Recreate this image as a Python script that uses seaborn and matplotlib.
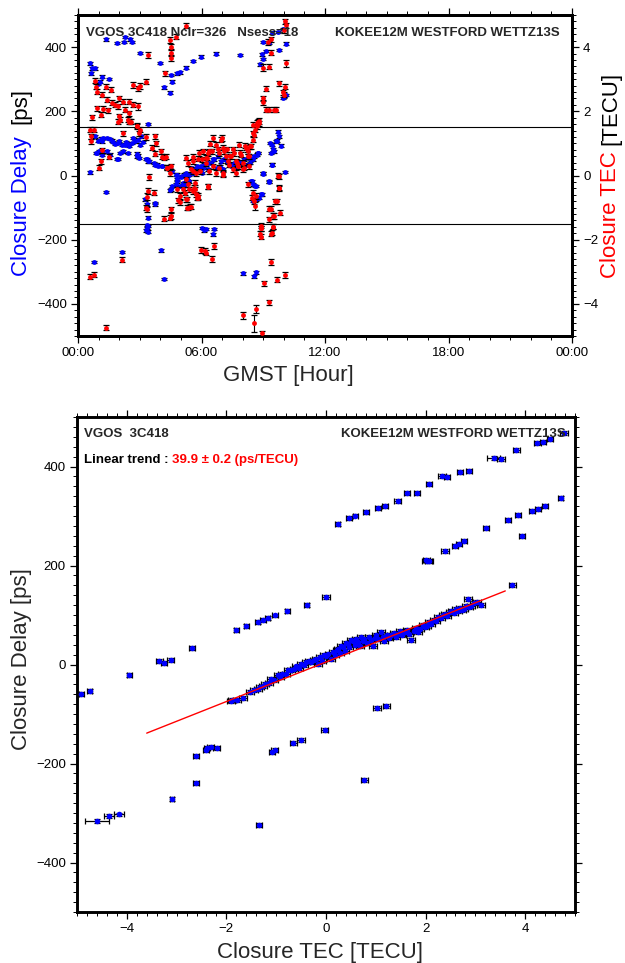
import numpy as np
import pandas as pd
import matplotlib
matplotlib.use("Agg")
import matplotlib.pyplot as plt
import seaborn as sns
from matplotlib.ticker import MultipleLocator, FixedLocator

# ---------------- data ----------------
# top panel: closure delay (ps) vs GMST (hours)
blue_points = [
    (0.58, 349), (0.67, 334), (0.62, 318), (0.83, 334), (1.15, 308), (1.07, 292), (0.99, 285), (1.52, 301),
    (1.36, 424), (1.91, 413), (2.25, 416), (2.28, 432), (2.53, 424), (2.61, 416), (3.01, 382), (3.98, 351),
    (4.20, 275), (4.47, 258), (4.50, 313), (4.55, 292), (4.83, 318), (4.96, 321), (5.25, 336), (5.60, 357),
    (5.98, 370), (6.71, 380), (7.89, 375), (8.84, 346), (8.94, 377), (9.00, 363), (9.00, 416), (9.13, 388),
    (9.26, 414), (9.43, 445), (9.70, 447), (9.75, 391), (9.98, 456), (10.10, 411), (9.95, 241), (10.02, 246),
    (10.10, 251), (3.42, 160),
    (0.83, 122), (0.99, 109), (1.10, 115), (1.15, 106), (1.23, 117), (1.39, 117), (1.55, 114), (1.64, 109),
    (1.70, 104), (1.80, 99), (1.96, 101), (2.00, 108), (2.12, 96), (2.28, 96), (2.35, 104), (2.44, 99),
    (2.50, 92), (2.60, 101), (2.67, 117), (2.75, 106), (2.92, 112), (3.00, 96), (3.08, 122), (3.15, 105),
    (0.58, 10), (0.86, 70), (0.91, 70), (1.02, 75), (1.15, 72), (1.18, 65), (1.39, 75), (1.55, 65),
    (1.91, 52), (1.96, 52), (2.04, 70), (2.20, 75), (2.44, 70), (2.85, 68), (2.88, 60), (2.93, 62),
    (2.96, 55), (3.30, 52), (3.37, 52), (3.42, 44), (3.45, 44), (1.35, -52),
    (3.69, 39), (3.74, 34), (3.85, 34), (3.90, 29), (4.07, 29), (4.10, 29), (4.31, 24), (4.34, 24),
    (4.47, 19), (4.58, 13), (4.75, 3), (4.80, 3), (4.99, -4), (5.04, -2), (5.15, 3), (5.20, 3),
    (5.23, -12), (5.31, -7), (4.50, -43), (4.47, -46), (4.56, -33), (4.75, -28), (4.82, -18), (4.80, -12),
    (4.96, -33), (5.12, -23), (5.15, -33), (5.23, -23), (5.28, -18), (5.39, -18), (3.72, -85), (3.74, -90),
    (3.26, -74), (3.34, -90), (3.42, -131), (3.37, -155), (3.37, -162), (3.40, -157), (3.29, -171), (3.40, -175),
    (5.25, 8), (5.41, 3), (5.52, 24), (5.57, 8), (5.60, 8), (5.65, 19), (5.77, 29), (5.82, 24),
    (5.93, 19), (5.98, 29), (6.01, 8), (6.09, 24), (6.14, 34), (6.30, 19), (6.33, 39), (6.46, 39),
    (6.57, 50), (6.62, 50), (6.74, 24), (6.79, 60), (6.90, 29), (6.95, 44), (7.06, 19), (7.11, 50),
    (7.22, 44), (7.27, 39), (7.39, 34), (7.43, 29), (7.55, 29), (7.59, 39), (7.71, 24), (7.75, 44),
    (7.87, 39), (7.92, 34), (8.04, 29), (8.08, 50), (8.20, 34), (8.24, 55), (8.36, 39), (8.40, 50),
    (8.52, 50), (8.56, 60), (8.68, 65), (8.73, 70), (8.76, 70),
    (8.40, -18), (8.47, -18), (8.49, -28), (8.60, -33), (8.65, -33), (8.89, -59), (8.93, -59), (8.78, -69),
    (8.65, -74), (8.49, -80), (9.01, 8), (9.01, 6), (9.30, -18), (9.30, -20), (9.42, 34), (9.43, 34),
    (10.06, 11), (9.70, 137), (9.78, 122), (9.62, 106), (9.43, 96), (9.49, 81), (9.38, 70), (9.54, 75),
    (9.86, 93), (9.33, 101), (9.65, 109),
    (6.03, -164), (6.14, -171), (6.22, -167), (6.55, -183), (6.62, -167), (0.78, -269), (2.15, -238),
    (4.05, -233), (4.18, -322), (8.03, -305), (8.57, -314), (8.65, -302),
]
blue_delay_err = 4.0  # ps

# top panel: closure TEC (TECU) vs GMST (hours), with TEC error (TECU)
red_points = [
    (5.23, 4.66, .08), (4.47, 4.22, .08), (4.50, 4.01, .08), (4.53, 3.83, .08), (4.53, 3.65, .08),
    (4.76, 4.32, .08), (3.40, 3.75, .10), (4.21, 3.18, .08), (3.30, 2.92, .08), (3.01, 2.79, .08),
    (2.69, 2.82, .08), (2.93, 2.72, .08), (10.07, 4.80, .08), (10.10, 4.68, .08), (10.02, 4.53, .08),
    (9.38, 4.25, .08), (9.25, 4.16, .08), (9.38, 3.83, .08), (9.27, 3.39, .08), (9.00, 3.36, .12),
    (10.10, 3.49, .10), (9.13, 2.70, .08), (8.97, 2.41, .08), (9.00, 2.28, .08), (9.78, 2.87, .08),
    (10.07, 2.77, .08), (9.98, 2.59, .08), (10.02, 2.51, .08), (9.27, 2.05, .08), (9.54, 2.05, .08),
    (9.62, 2.05, .08), (9.13, 2.05, .08), (8.78, 1.70, .10), (8.49, 1.58, .08), (8.76, 1.68, .08),
    (0.83, 2.95, .08), (0.87, 2.77, .08), (0.91, 2.61, .08), (1.15, 2.51, .08), (1.36, 2.77, .08),
    (1.59, 2.67, .08), (1.39, 2.36, .08), (0.91, 2.10, .08), (0.67, 1.82, .08), (1.23, 2.07, .08),
    (1.10, 1.89, .08), (1.44, 2.03, .08), (1.64, 2.27, .08), (1.80, 2.20, .08), (2.01, 2.41, .08),
    (1.96, 2.15, .08), (2.20, 2.30, .08), (2.28, 2.05, .08), (2.49, 2.30, .08), (2.49, 1.94, .08),
    (2.69, 2.20, .08), (2.93, 2.15, .10), (2.44, 1.74, .08), (2.53, 1.68, .08), (1.98, 1.84, .08),
    (2.04, 1.74, .08), (2.85, 1.53, .08), (1.96, 1.68, .08), (2.48, 1.68, .08), (2.56, 1.68, .08),
    (2.85, 1.55, .08), (2.20, 1.32, .08), (3.01, 1.43, .08), (2.98, 1.32, .08), (0.58, 1.43, .08),
    (0.78, 1.43, .08), (0.65, 1.22, .08), (0.65, 1.06, .08), (1.18, 0.78, .08), (1.10, 0.44, .08),
    (1.02, 0.24, .08), (1.51, 0.58, .08),
    (3.30, 1.20, .08), (3.74, 1.22, .08), (3.79, 1.01, .08), (3.58, 0.86, .08), (3.73, 0.68, .08),
    (4.05, 0.75, .08), (4.29, 0.58, .08), (4.18, 0.55, .08), (4.10, 0.58, .08), (4.53, 0.29, .08),
    (4.34, 0.24, .08), (4.47, 0.08, .08), (4.31, 0.24, .08), (3.45, -0.04, .10), (3.42, -0.49, .10),
    (3.37, -0.66, .10), (3.29, -1.00, .08), (3.37, -1.05, .08), (3.69, -0.54, .08), (4.18, -1.34, .08),
    (4.50, -1.26, .08), (4.47, -1.31, .08), (4.53, -1.05, .08), (4.80, -0.43, .08), (4.96, -0.64, .08),
    (5.12, -0.43, .08), (5.20, -0.54, .08), (5.28, -0.74, .08), (5.28, -1.00, .08), (5.44, -0.97, .08),
    (4.96, -0.83, .08), (4.87, -0.77, .08), (5.68, -0.43, .08), (5.77, -0.69, .08), (5.85, -0.64, .08),
    (6.33, -0.33, .08), (5.68, -0.23, .08), (5.25, -0.12, .08), (5.33, -0.28, .08), (5.41, -0.43, .08),
    (5.57, -0.49, .08), (5.65, -0.38, .08), (5.73, -0.59, .08), (5.82, -0.69, .08), (5.25, -0.74, .08),
    (5.33, -1.00, .08), (5.49, -0.97, .08), (6.30, -0.35, .08),
    (5.25, 0.55, .08), (5.33, 0.39, .08), (5.49, 0.19, .08), (5.60, 0.44, .08), (5.82, 0.52, .08),
    (5.90, 0.70, .08), (6.06, 0.75, .08), (6.22, 0.55, .08), (6.38, 0.75, .08), (6.41, 0.99, .08),
    (6.54, 1.17, .08), (6.71, 0.96, .08), (6.79, 0.81, .08), (6.87, 0.70, .08), (6.95, 1.12, .08),
    (6.98, 1.17, .08), (7.03, 0.86, .08), (7.11, 0.75, .08), (7.19, 0.60, .08), (7.27, 0.44, .08),
    (7.35, 0.34, .08), (7.43, 0.60, .08), (7.52, 0.81, .08), (7.60, 0.70, .08), (7.68, 0.44, .08),
    (7.76, 0.29, .08), (7.84, 0.96, .08), (7.92, 0.65, .08), (8.00, 0.39, .08), (8.16, 0.86, .08),
    (8.25, 0.75, .08), (8.33, 0.60, .08), (8.41, 0.91, .08), (8.49, 1.12, .08), (8.52, 1.32, .08),
    (8.57, 1.27, .08), (8.62, 1.43, .08), (8.68, 1.53, .08), (8.71, 1.65, .08), (8.78, 1.63, .08),
    (8.33, 0.29, .08), (8.08, 0.24, .08), (7.68, 0.08, .08), (7.52, 0.19, .08), (7.03, 0.03, .08),
    (6.87, 0.24, .08), (6.71, 0.08, .08), (6.38, 0.13, .08), (6.22, 0.39, .08), (5.73, 0.08, .08),
    (5.57, 0.13, .08), (5.60, 0.58, .08), (6.01, 0.50, .08), (6.25, 0.55, .08), (6.33, 0.70, .08),
    (6.49, 0.75, .08), (7.22, 0.81, .08), (7.39, 0.60, .08), (7.71, 0.39, .08), (7.87, 0.70, .08),
    (8.11, 0.93, .08), (8.20, 0.81, .08), (8.36, 0.91, .08), (8.28, 0.60, .08), (8.03, 0.19, .08),
    (7.79, 0.29, .08), (7.06, 0.08, .08), (6.57, 0.29, .08), (5.93, 0.13, .08),
    (8.25, -0.28, .08), (8.49, -0.54, .08), (8.65, -0.64, .08), (8.57, -0.80, .10), (8.62, -0.95, .12),
    (8.44, -0.69, .08), (9.70, 0.00, .08), (9.78, -0.02, .08), (9.78, -0.38, .08), (9.78, -0.40, .08),
    (9.59, -0.80, .08), (9.65, -0.80, .08), (9.30, -1.03, .08), (9.38, -1.03, .08), (9.49, -1.26, .08),
    (9.52, -1.26, .08), (9.83, -1.16, .08), (9.30, -1.36, .08), (8.89, -1.57, .08), (9.49, -1.59, .08),
    (8.84, -1.81, .08), (8.88, -1.65, .08), (9.44, -1.78, .08),
    (5.98, -2.32, .08), (6.22, -2.40, .08), (6.19, -2.35, .08), (6.62, -2.19, .10), (6.51, -2.60, .08),
    (8.89, -1.64, .08), (8.89, -1.91, .08), (9.49, -1.60, .08), (9.38, -1.81, .08), (9.40, -2.69, .10),
    (9.02, -3.36, .08), (9.67, -3.25, .08), (10.06, -3.10, .08), (9.30, -3.95, .08), (8.03, -4.36, .10),
    (8.65, -4.15, .12), (8.57, -4.60, .26), (8.94, -4.91, .08), (2.15, -2.63, .08), (0.58, -3.15, .08),
    (0.78, -3.09, .08), (1.35, -4.74, .08),
]

# bottom panel: (closure TEC [TECU], closure delay [ps], TEC error [TECU])
branch_points = [
    (0.24, 284, .05), (0.46, 296, .06), (0.59, 301, .05), (0.80, 308, .06), (1.05, 316, .06),
    (1.19, 321, .06), (1.44, 331, .07), (1.62, 347, .06), (1.82, 347, .06), (2.06, 364, .06),
    (2.33, 381, .08), (2.43, 379, .06), (2.70, 388, .06), (2.87, 391, .06), (3.37, 418, .13),
    (3.51, 415, .08), (3.82, 434, .07), (4.24, 448, .07), (4.36, 450, .06), (4.49, 456, .06),
    (4.78, 468, .08),
    (-4.91, -59, .05), (-4.74, -53, .05), (-3.95, -21, .05), (-3.35, 7, .07), (-3.25, 3, .06),
    (-3.12, 9, .07), (-2.69, 33, .06), (-1.80, 69, .05), (-1.60, 77, .05), (-1.37, 86, .05),
    (-1.26, 89, .06), (-1.17, 93, .05), (-1.02, 99, .06), (-0.78, 108, .05), (-0.39, 121, .05),
    (0.00, 137, .08), (2.03, 209, .10), (2.01, 211, .07), (2.06, 210, .08), (2.39, 230, .08),
    (2.60, 240, .06), (2.68, 244, .06), (2.78, 249, .06), (3.21, 276, .06), (3.66, 291, .06),
    (3.86, 302, .06), (3.94, 259, .06), (4.14, 311, .06), (4.26, 314, .06), (4.39, 321, .06),
    (4.71, 337, .05), (3.74, 160, .07),
    (1.03, -87, .08), (1.21, -83, .07), (-0.03, -133, .08), (-0.50, -152, .08), (-0.66, -159, .07),
    (-1.03, -172, .07), (-1.08, -176, .06), (-2.19, -168, .07), (-2.31, -167, .07), (-2.39, -168, .06),
    (-2.41, -172, .06), (-2.62, -184, .06), (-2.62, -240, .06), (0.77, -234, .07), (-3.09, -271, .04),
    (-4.16, -303, .10), (-4.36, -307, .10), (-4.59, -317, .24), (-1.34, -325, .06),
]
cluster_points = [
    (-1.91, -73), (-1.88, -72), (-1.78, -71), (-1.66, -67), (-1.52, -56), (-1.45, -52), (-1.37, -49),
    (-1.33, -46), (-1.27, -44), (-1.22, -40), (-1.15, -38), (-1.10, -30), (-1.04, -32), (-0.97, -22),
    (-0.92, -26), (-0.88, -20), (-0.80, -19), (-0.76, -12), (-0.70, -11), (-0.64, -9), (-0.60, -4),
    (-0.55, -8), (-0.50, 1), (-0.45, -2), (-0.40, 5), (-0.35, 8), (-0.30, 6), (-0.25, 10), (-0.20, 12),
    (-0.17, 1), (-0.12, 16), (-0.08, 8), (-0.04, 20), (0.00, 18), (0.05, 22), (0.10, 12), (0.14, 26),
    (0.18, 20), (0.22, 30), (0.24, 32), (0.28, 24), (0.30, 38), (0.34, 35), (0.38, 28), (0.40, 44),
    (0.44, 42), (0.47, 36), (0.50, 50), (0.54, 48), (0.58, 40), (0.60, 52), (0.64, 45), (0.68, 38),
    (0.70, 55), (0.74, 48), (0.77, 52), (0.82, 44), (0.86, 56), (0.90, 50), (0.94, 38), (0.98, 54),
    (1.01, 59), (1.05, 52), (1.11, 65), (1.14, 56), (1.17, 48), (1.22, 60), (1.27, 54), (1.31, 59),
    (1.36, 64), (1.40, 56), (1.44, 62), (1.49, 68), (1.53, 60), (1.58, 65), (1.63, 70), (1.67, 62),
    (1.71, 50), (1.76, 68), (1.80, 74), (1.84, 65), (1.89, 72), (1.94, 80), (1.98, 75), (2.03, 78),
    (2.07, 86), (2.11, 82), (2.16, 90), (2.20, 88), (2.25, 96), (2.30, 94), (2.34, 100), (2.38, 102),
    (2.43, 98), (2.48, 106), (2.52, 109), (2.57, 104), (2.61, 112), (2.65, 109), (2.70, 114), (2.74, 110),
    (2.78, 112), (2.82, 118), (2.85, 133), (2.88, 116), (2.92, 119), (2.98, 124), (3.04, 126), (3.12, 121),
]
cluster_tec_err = 0.08
scatter_delay_err = 4.0

trend_slope = 39.9      # ps/TECU
trend_intercept = 5.0   # ps
trend_range = [-3.6, 3.6]

time_ticks = [0, 6, 12, 18, 24]
time_labels = ["00:00", "06:00", "12:00", "18:00", "00:00"]
delay_limits = 150

# ---------------- styling ----------------
sns.set_theme(style="white")
plt.rcParams["font.family"] = ["Liberation Sans", "DejaVu Sans"]
plt.rcParams["axes.unicode_minus"] = True

W, H = 625, 963
fig = plt.figure(figsize=(W / 100, H / 100), dpi=100)


def rect(l, t, r, b):
    return [l / W, 1 - b / H, (r - l) / W, (b - t) / H]


BLUE = "#0000ff"
RED = "#ff0000"
FRAME_LW = 2.1


def style_frame(ax):
    for s in ax.spines.values():
        s.set_linewidth(FRAME_LW)
        s.set_color("black")
        s.set_visible(True)
    ax.tick_params(which="major", direction="out", length=5, width=0.9, color="black",
                   labelsize=9.5, labelcolor="black", pad=3)
    ax.tick_params(which="minor", direction="out", length=2.6, width=0.7, color="black")
    ax.set_xlabel("")
    ax.set_ylabel("")
    ax.grid(False)


# ---------------- top panel ----------------
ax1 = fig.add_axes(rect(78, 15, 572, 336))
blue_df = pd.DataFrame(blue_points, columns=["gmst", "delay"])
ax1.errorbar(blue_df["gmst"], blue_df["delay"], yerr=blue_delay_err, fmt="none", ecolor="black",
             elinewidth=0.8, capsize=1.9, capthick=0.9, zorder=2)
sns.scatterplot(data=blue_df, x="gmst", y="delay", ax=ax1, color=BLUE, s=12, linewidth=0,
                zorder=3, legend=False)
ax1.axhline(delay_limits, color="black", lw=0.8, zorder=1)
ax1.axhline(-delay_limits, color="black", lw=0.8, zorder=1)
ax1.set_xlim(0, 24)
ax1.set_ylim(-500, 500)
ax1.xaxis.set_major_locator(FixedLocator(time_ticks))
ax1.set_xticklabels(time_labels)
ax1.xaxis.set_minor_locator(MultipleLocator(1))
ax1.yaxis.set_major_locator(MultipleLocator(200))
ax1.yaxis.set_minor_locator(MultipleLocator(20))
style_frame(ax1)
ax1.tick_params(axis="x", which="both", top=True, bottom=True)
ax1.tick_params(axis="y", which="both", left=True, right=False)

ax1r = ax1.twinx()
red_df = pd.DataFrame(red_points, columns=["gmst", "tec", "err"])
ax1r.errorbar(red_df["gmst"], red_df["tec"], yerr=red_df["err"], fmt="none", ecolor="black",
              elinewidth=0.8, capsize=1.9, capthick=0.9, zorder=2)
sns.scatterplot(data=red_df, x="gmst", y="tec", ax=ax1r, color=RED, s=12, linewidth=0,
                zorder=3, legend=False)
ax1r.set_ylim(-5, 5)
ax1r.yaxis.set_major_locator(MultipleLocator(2))
ax1r.yaxis.set_minor_locator(MultipleLocator(0.2))
style_frame(ax1r)
ax1r.tick_params(axis="y", which="both", right=True, left=False, labelright=True, labelleft=False)

# ---------------- bottom panel ----------------
ax2 = fig.add_axes(rect(77, 417, 575, 912))
branch_df = pd.DataFrame(branch_points, columns=["tec", "delay", "tec_err"])
cluster_df = pd.DataFrame(cluster_points, columns=["tec", "delay"])
cluster_df["tec_err"] = cluster_tec_err
scat_df = pd.concat([branch_df, cluster_df], ignore_index=True)

ax2.errorbar(scat_df["tec"], scat_df["delay"], xerr=scat_df["tec_err"], yerr=scatter_delay_err,
             fmt="none", ecolor="black", elinewidth=0.9, capsize=2.2, capthick=0.9, zorder=2)
sns.scatterplot(data=scat_df, x="tec", y="delay", ax=ax2, color=BLUE, s=16, linewidth=0,
                zorder=3, legend=False)
trend_x = np.array(trend_range)
sns.lineplot(x=trend_x, y=trend_intercept + trend_slope * trend_x, ax=ax2, color=RED, lw=1.0,
             zorder=4, legend=False)
ax2.set_xlim(-5, 5)
ax2.set_ylim(-500, 500)
ax2.xaxis.set_major_locator(MultipleLocator(2))
ax2.xaxis.set_minor_locator(MultipleLocator(0.2))
ax2.yaxis.set_major_locator(MultipleLocator(200))
ax2.yaxis.set_minor_locator(MultipleLocator(20))
style_frame(ax2)
ax2.tick_params(which="both", top=True, bottom=True, left=True, right=True,
                labeltop=False, labelright=False)

# ---------------- text ----------------
renderer = fig.canvas.get_renderer()


def text_width(s, **kw):
    t = fig.text(0, 0, s, **kw)
    w = t.get_window_extent(renderer).width
    t.remove()
    return w


def multicolor(x_px, y_px, parts, rotation=0, center=True, **kw):
    """x_px, y_px in pixels from top-left; parts = [(text, color, gap_after_px)]"""
    widths = [text_width(s, **kw) for s, c, g in parts]
    total = sum(widths) + sum(g for s, c, g in parts[:-1])
    pos = -total / 2 if center else 0.0
    for (s, c, g), w in zip(parts, widths):
        if rotation == 90:
            fig.text(x_px / W, (H - y_px + pos) / H, s, color=c, rotation=90,
                     rotation_mode="anchor", ha="left", va="center", **kw)
        else:
            fig.text((x_px + pos) / W, 1 - y_px / H, s, color=c, ha="left", va="center", **kw)
        pos += w + g


space16 = text_width("a a", fontsize=16) - text_width("aa", fontsize=16)
space9 = text_width("a a", fontsize=9.5, fontweight="bold") - text_width("aa", fontsize=9.5, fontweight="bold")

# top panel labels
multicolor(21, 182, [("Closure Delay", BLUE, 2 * space16), ("[ps]", "black", 0)], rotation=90, fontsize=16)
multicolor(611, 175, [("Closure TEC", RED, space16), ("[TECU]", "black", 0)], rotation=90, fontsize=16)
fig.text(288 / W, 1 - 375 / H, "GMST [Hour]", fontsize=16, ha="center", va="center")
fig.text(86 / W, 1 - 33 / H, "VGOS 3C418 Nclr=326   Nsess=18", fontsize=9.5, fontweight="bold",
         ha="left", va="center")
fig.text(560 / W, 1 - 33 / H, "KOKEE12M WESTFORD WETTZ13S", fontsize=9.5, fontweight="bold",
         ha="right", va="center")

# bottom panel labels
fig.text(22 / W, 1 - 659 / H, "Closure Delay [ps]", fontsize=16, rotation=90, ha="center", va="center")
fig.text(320 / W, 1 - 952 / H, "Closure TEC [TECU]", fontsize=16, ha="center", va="center")
fig.text(84 / W, 1 - 434 / H, "VGOS  3C418", fontsize=9.5, fontweight="bold", ha="left", va="center")
fig.text(566 / W, 1 - 434 / H, "KOKEE12M WESTFORD WETTZ13S", fontsize=9.5, fontweight="bold",
         ha="right", va="center")
multicolor(84, 460, [("Linear trend :", "black", space9),
                     (f"{trend_slope:.1f} \u00b1 0.2 (ps/TECU)", RED, 0)],
           center=False, fontsize=9.5, fontweight="bold")

fig.savefig("out.png", dpi=100)
